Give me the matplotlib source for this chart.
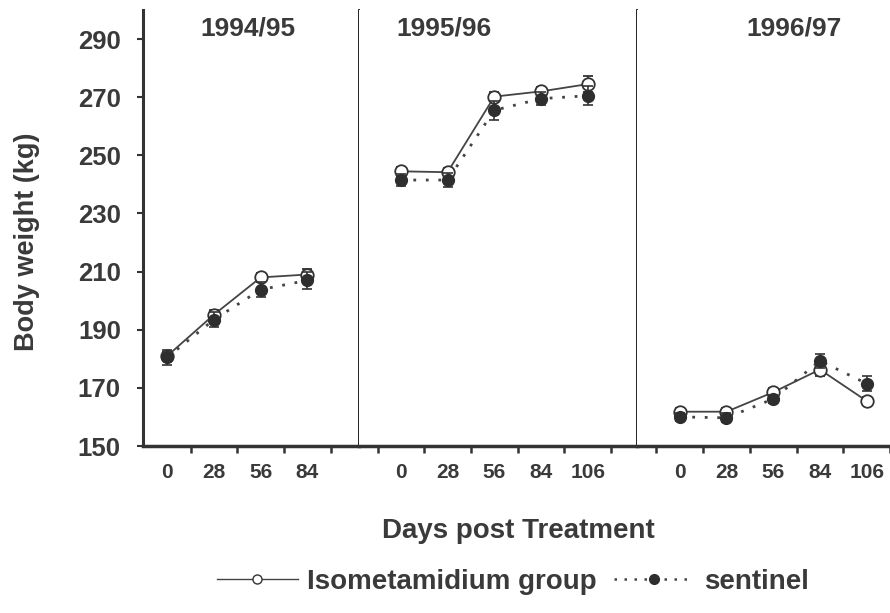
import matplotlib
matplotlib.use("Agg")
import matplotlib.pyplot as plt
from matplotlib.lines import Line2D

plt.rcParams['font.family'] = ['Liberation Sans', 'DejaVu Sans']
plt.rcParams['font.weight'] = 'bold'

ink = '#3a3a3a'

# seasons and sampling days
seasons = ['1994/95', '1995/96', '1996/97']
days_9495 = ['0', '28', '56', '84']
days_9596 = ['0', '28', '56', '84', '106']
days_9697 = ['0', '28', '56', '84', '106']

# mean body weight (kg) and standard error
iso_9495 = [181.0, 195.2, 208.0, 209.0]
iso_9495_se = [1.5, 1.5, 1.5, 2.0]
sent_9495 = [180.5, 193.5, 203.8, 207.0]
sent_9495_se = [2.5, 2.5, 2.6, 3.0]

iso_9596 = [244.5, 244.2, 270.2, 272.0, 274.5]
iso_9596_se = [1.5, 1.5, 1.5, 1.5, 2.8]
sent_9596 = [241.5, 241.5, 265.5, 269.5, 270.5]
sent_9596_se = [2.0, 2.3, 3.3, 2.3, 3.3]

iso_9697 = [161.8, 161.8, 168.5, 176.3, 165.5]
iso_9697_se = [1.2, 1.2, 1.5, 2.3, 1.5]
sent_9697 = [160.0, 159.7, 166.2, 179.3, 171.5]
sent_9697_se = [1.5, 1.5, 1.5, 2.5, 2.5]

panels = [
    (days_9495, iso_9495, iso_9495_se, sent_9495, sent_9495_se, (-0.52, 4.10), 0.488),
    (days_9596, iso_9596, iso_9596_se, sent_9596, sent_9596_se, (-0.90, 5.05), 0.306),
    (days_9697, iso_9697, iso_9697_se, sent_9697, sent_9697_se, (-0.92, 4.50), 0.622),
]
widths = [p[5][1] - p[5][0] for p in panels]

fig, axes = plt.subplots(1, 3, sharey=True, figsize=(8.9, 6.13), dpi=100,
                         gridspec_kw={'width_ratios': widths, 'wspace': 0})
fig.subplots_adjust(left=143 / 890, right=1.0, bottom=1 - 446 / 613, top=1 - 10 / 613)

for i, (ax, p) in enumerate(zip(axes, panels)):
    days, iso, iso_se, sent, sent_se, xlim, tx = p
    x = list(range(len(days)))
    # isometamidium group: solid line, open circles
    ax.errorbar(x, iso, yerr=iso_se, color='#444444', lw=1.3, marker='o', ms=9,
                mfc='white', mec='#333333', mew=1.3, ecolor='#333333', elinewidth=1.2,
                capsize=3.5, capthick=1.2, zorder=3)
    # sentinel: dotted line, filled circles
    ax.errorbar(x, sent, yerr=sent_se, color='#444444', lw=2.0, ls=(0, (1, 3.5)),
                marker='o', ms=8.5, mfc='#2e2e2e', mec='#2e2e2e', ecolor='#333333',
                elinewidth=1.2, capsize=3.5, capthick=1.2, zorder=4)
    ax.set_xlim(*xlim)
    ax.set_xticks(x)
    ax.set_xticklabels(days, fontsize=15, color=ink)
    ax.tick_params(axis='x', which='major', length=0, pad=12)
    if i == 0:
        ax.set_xticks([k + 0.5 for k in x], minor=True)
    else:
        ax.set_xticks([k - 0.5 for k in x] + [len(x) - 0.5], minor=True)
    ax.tick_params(axis='x', which='minor', length=5, width=1.8, color='#333333')
    ax.spines['top'].set_visible(False)
    ax.spines['bottom'].set_linewidth(2.5)
    ax.spines['bottom'].set_color('#333333')
    ax.spines['right'].set_linewidth(1.3)
    ax.spines['right'].set_color('#111111')
    if i == 2:
        ax.spines['right'].set_visible(False)
    if i == 0:
        ax.spines['left'].set_linewidth(2.2)
        ax.spines['left'].set_color('#333333')
    else:
        ax.spines['left'].set_visible(False)
        ax.tick_params(axis='y', left=False)
    ax.text(tx, 0.958, seasons[i], transform=ax.transAxes, ha='center', va='center',
            fontsize=19, color=ink)

axes[0].set_ylim(150, 300)
axes[0].set_yticks(range(150, 300, 20))
axes[0].tick_params(axis='y', length=4, width=1.5, pad=12, labelsize=18.5,
                    labelcolor=ink, color='#333333')

fig.text(27 / 890, 1 - 242 / 613, 'Body weight (kg)', rotation=90, ha='center',
         va='center', fontsize=19.5, color=ink)
fig.text(518 / 890, 1 - 531 / 613, 'Days post Treatment', ha='center', va='center',
         fontsize=20, color=ink)

h_iso = Line2D([], [], color='#444444', lw=1.0, marker='o', ms=6.5, mfc='white',
               mec='#333333', mew=1.0)
h_sent = Line2D([], [], color='#444444', lw=1.8, ls=(0, (1, 3)), marker='o', ms=7,
                mfc='#2e2e2e', mec='#2e2e2e')
leg = fig.legend([h_iso, h_sent], ['Isometamidium group', 'sentinel'], loc='center left',
                 bbox_to_anchor=(217 / 890, 1 - 582 / 613), ncol=2, frameon=False,
                 fontsize=20, borderpad=0, borderaxespad=0, handlelength=2.9,
                 handletextpad=0.35, columnspacing=0.6)
for t in leg.get_texts():
    t.set_color(ink)

fig.savefig('out.png', dpi=100, facecolor='white')
